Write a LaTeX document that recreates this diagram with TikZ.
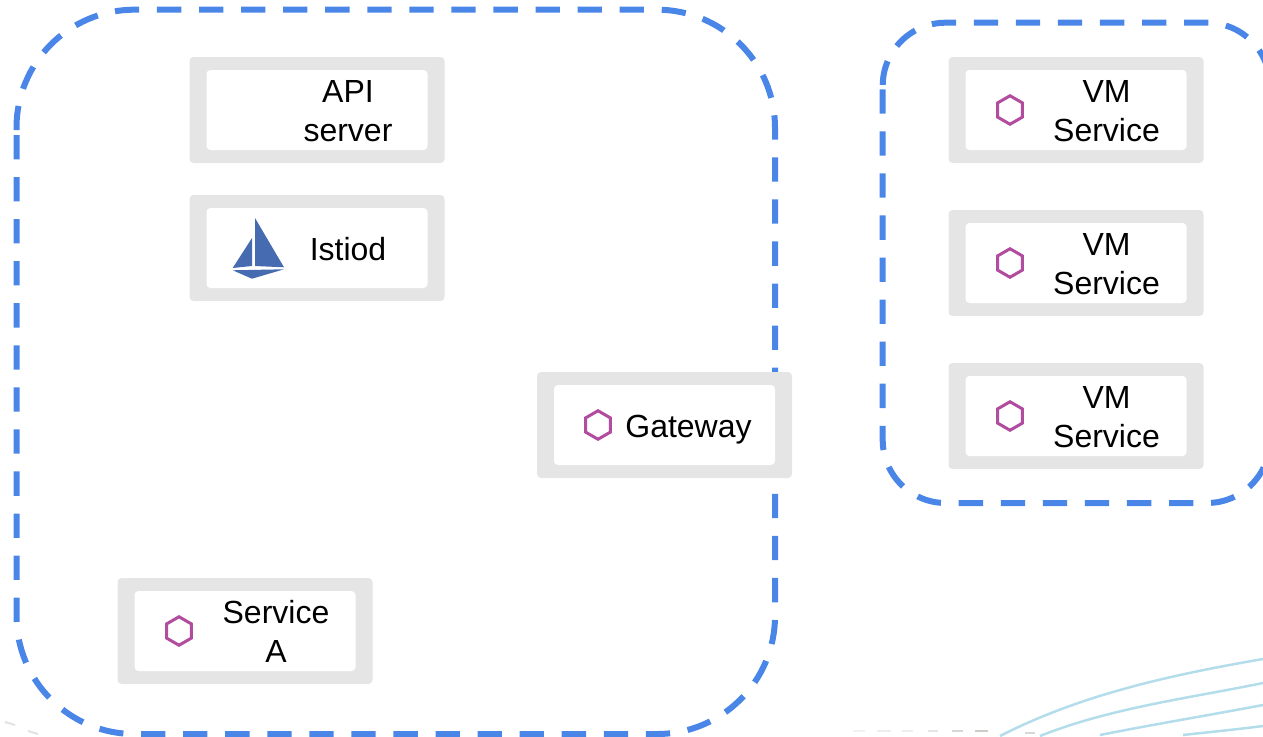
\documentclass[tikz,border=0pt]{standalone}
\usepackage{fontspec}
\setmainfont{Liberation Sans}
\usetikzlibrary{shapes.geometric}
\definecolor{zone}{HTML}{4A86E8}
\definecolor{grayb}{HTML}{E5E5E5}
\definecolor{hexc}{HTML}{B24C9F}
\definecolor{sail}{HTML}{466BB0}
\definecolor{wave}{HTML}{B4DDEB}
\definecolor{ghost}{HTML}{C4C8C2}
\tikzset{
  zoneline/.style={draw=zone,line width=6pt,dash pattern=on 24.3pt off 17.76pt},
  outerbox/.style={fill=grayb,rounded corners=4pt,minimum width=255pt,minimum height=106pt,inner sep=0pt},
  innerbox/.style={fill=white,rounded corners=4pt,minimum width=221pt,minimum height=80pt,inner sep=0pt},
  label/.style={font=\fontsize{32}{39}\selectfont,align=center,inner sep=0pt,text=black},
  hexa/.style={regular polygon,regular polygon sides=6,shape border rotate=90,draw=hexc,line width=3pt,minimum size=28.5pt,inner sep=0pt},
  wavel/.style={draw=wave,line width=2.5pt},
  ghostl/.style={draw=ghost,line width=2pt},
}
\begin{document}
\begin{tikzpicture}[x=1pt,y=-1pt]
\useasboundingbox (0,0) rectangle (1263,736);
\clip (0,0) rectangle (1263,736);
% faint remains along the bottom edge
\draw[wavel] (1000,736) .. controls (1080,695) and (1170,675) .. (1263,659);
\draw[wavel] (1040,736) .. controls (1110,708) and (1190,698) .. (1263,683);
\draw[wavel] (1100,735) .. controls (1150,725) and (1210,715) .. (1263,705);
\draw[wavel] (1183,735) .. controls (1210,732) and (1240,729) .. (1263,726);
\foreach \a/\b/\o in {853/865/.25,877/891/.3,902/913/.3,928/938/.45,952/963/.7,975/988/.9}
  \draw[ghostl,opacity=\o] (\a,731) -- (\b,731);
\draw[ghostl,opacity=.7] (1025,733) -- (1035,733);
\draw[ghostl,opacity=.5] (5,722) -- (15,725);
\draw[ghostl,opacity=.5] (28,731) -- (38,734);
% zones
\draw[zoneline] (16.5,135) -- (16.5,246) [rounded corners=118pt] -- (16.5,734) -- (775,734) -- (775,9.7) -- (16.5,9.7) -- (16.5,130);
\draw[zoneline] (882.7,89.3) [rounded corners=63pt] -- (882.7,503) -- (1270,503) -- (1270,22.7) -- (882.7,22.7) -- (882.7,87);
% boxes
\node[outerbox] (apiO) at (317,110) {};
\node[innerbox] (apiI) at (317,110) {};
\node[label] (apiT) at (348,111.2) {API\\server};
\node[outerbox] (istO) at (317,248) {};
\node[innerbox] (istI) at (317,248) {};
\node[label] (istT) at (348,249) {Istiod};
\fill[sail] (255,218) -- (284,267.3) -- (255,266) -- cycle;
\fill[sail] (252,238) -- (252,266) -- (232.7,268) -- cycle;
\fill[sail] (232.7,270.3) -- (284,269.3) -- (252,278.7) -- cycle;
\node[outerbox] (gwO) at (664.5,425) {};
\node[innerbox] (gwI) at (664.5,425) {};
\node[hexa] (gwH) at (598,425) {};
\node[label,text height=24pt,text depth=7pt] (gwT) at (688.5,428.5) {Gateway};
\node[outerbox] (svcO) at (245,631) {};
\node[innerbox] (svcI) at (245,631) {};
\node[hexa] (svcH) at (179,631) {};
\node[label] (svcT) at (276,631.5) {Service\\A};
\node[outerbox] (vm1O) at (1076,110) {};
\node[innerbox] (vm1I) at (1076,110) {};
\node[hexa] (vm1H) at (1010,110) {};
\node[label] (vm1T) at (1106.5,111.2) {VM\\Service};
\node[outerbox] (vm2O) at (1076,263) {};
\node[innerbox] (vm2I) at (1076,263) {};
\node[hexa] (vm2H) at (1010,263) {};
\node[label] (vm2T) at (1106.5,264.2) {VM\\Service};
\node[outerbox] (vm3O) at (1076,416) {};
\node[innerbox] (vm3I) at (1076,416) {};
\node[hexa] (vm3H) at (1010,416) {};
\node[label] (vm3T) at (1106.5,416.7) {VM\\Service};
\end{tikzpicture}
\end{document}
